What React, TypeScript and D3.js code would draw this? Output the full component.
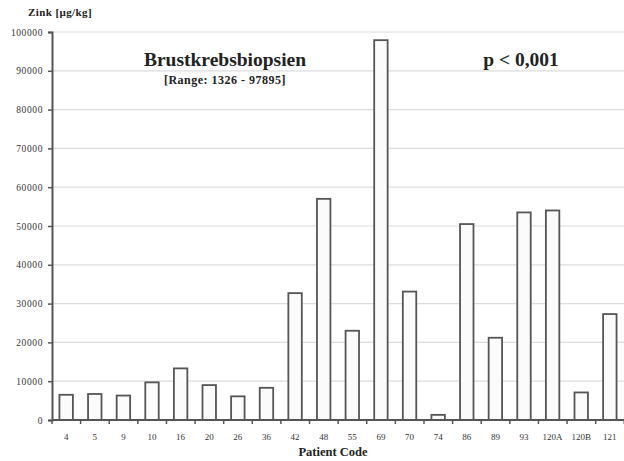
import * as d3 from 'd3';
import React, { useEffect, useRef } from 'react';

const patients = ["4", "5", "9", "10", "16", "20", "26", "36", "42", "48", "55", "69", "70", "74", "86", "89", "93", "120A", "120B", "121"];
const zinc = [6500, 6700, 6300, 9700, 13300, 9000, 6100, 8300, 32700, 57000, 23000, 97895, 33100, 1326, 50500, 21200, 53500, 54000, 7100, 27300];
const yTicks = [0, 10000, 20000, 30000, 40000, 50000, 60000, 70000, 80000, 90000, 100000];

export default function App() {
  const svgRef = useRef(null);
  const w = 624;
  const h = 461;
  const margin = { top: 32, right: 0, bottom: 41, left: 52 };
  const width = w - margin.left - margin.right;
  const height = h - margin.top - margin.bottom;

  useEffect(() => {
    const svg = d3.select(svgRef.current);
    svg.selectAll("*").remove();
    const serif = "'Liberation Serif', 'DejaVu Serif', serif";

    const g = svg.append("g")
      .attr("transform", `translate(${margin.left}, ${margin.top})`);

    const x = d3.scaleBand().domain(patients).range([0, width]).paddingInner(0.53).paddingOuter(0.26);
    const y = d3.scaleLinear().domain([0, 100000]).range([height, 0]);

    // gridlines
    g.append("g")
      .selectAll("line")
      .data(yTicks.slice(1))
      .join("line")
      .attr("x1", 0)
      .attr("x2", width)
      .attr("y1", d => y(d))
      .attr("y2", d => y(d))
      .attr("stroke", "#dcdcdc")
      .attr("stroke-width", 1.2);

    // bars
    g.append("g")
      .selectAll("rect")
      .data(zinc)
      .join("rect")
      .attr("x", (d, i) => x(patients[i])!)
      .attr("y", d => y(d))
      .attr("width", x.bandwidth())
      .attr("height", d => height - y(d))
      .attr("fill", "#fbfbfb")
      .attr("stroke", "#555")
      .attr("stroke-width", 1.8);

    // y axis
    const yAxis = d3.axisLeft(y).tickValues(yTicks).tickSize(4).tickFormat(d => `${d}`);
    const yG = g.append("g").call(yAxis);
    yG.select(".domain").attr("stroke", "#555").attr("stroke-width", 2);
    yG.selectAll("line").attr("stroke", "#555").attr("stroke-width", 1.5);
    yG.selectAll("text")
      .attr("font-family", serif)
      .attr("font-size", "9.5px")
      .attr("letter-spacing", "0.6px")
      .attr("fill", "#333")
      .attr("x", -9);

    // x axis
    const step = x.step();
    const xG = g.append("g").attr("transform", `translate(0, ${height})`);
    xG.append("line")
      .attr("x1", 0).attr("x2", width)
      .attr("y1", 0).attr("y2", 0)
      .attr("stroke", "#555").attr("stroke-width", 2);
    xG.selectAll("line.tk")
      .data(d3.range(patients.length + 1))
      .join("line")
      .attr("class", "tk")
      .attr("x1", d => d * step)
      .attr("x2", d => d * step)
      .attr("y1", 0)
      .attr("y2", 4)
      .attr("stroke", "#555")
      .attr("stroke-width", 1.5);
    xG.selectAll("text")
      .data(patients)
      .join("text")
      .attr("x", d => x(d)! + x.bandwidth() / 2)
      .attr("y", 20)
      .attr("text-anchor", "middle")
      .attr("font-family", serif)
      .attr("font-size", "9px")
      .attr("fill", "#333")
      .text(d => d);

    svg.append("text")
      .attr("x", 333).attr("y", 456)
      .attr("text-anchor", "middle")
      .attr("font-family", serif)
      .attr("font-weight", "bold")
      .attr("font-size", "12.5px")
      .attr("fill", "#222")
      .text("Patient Code");

    svg.append("text")
      .attr("x", 28).attr("y", 16)
      .attr("font-family", serif)
      .attr("font-weight", "bold")
      .attr("font-size", "11px")
      .attr("letter-spacing", "0.4px")
      .attr("fill", "#222")
      .text("Zink [µg/kg]");

    svg.append("text")
      .attr("x", 225).attr("y", 66)
      .attr("text-anchor", "middle")
      .attr("font-family", serif)
      .attr("font-weight", "bold")
      .attr("font-size", "19.5px")
      .attr("fill", "#222")
      .text("Brustkrebsbiopsien");

    svg.append("text")
      .attr("x", 225).attr("y", 84)
      .attr("text-anchor", "middle")
      .attr("font-family", serif)
      .attr("font-weight", "bold")
      .attr("font-size", "12px")
      .attr("letter-spacing", "0.5px")
      .attr("fill", "#222")
      .text("[Range: 1326 - 97895]");

    svg.append("text")
      .attr("x", 521).attr("y", 66)
      .attr("text-anchor", "middle")
      .attr("font-family", serif)
      .attr("font-weight", "bold")
      .attr("font-size", "19.5px")
      .attr("fill", "#222")
      .text("p < 0,001");
  }, []);

  return (
    <div style={{ position: "absolute", left: 0, top: 0, background: "#fff" }}>
      <svg ref={svgRef} width={w} height={h} style={{ display: "block" }} />
    </div>
  );
}
